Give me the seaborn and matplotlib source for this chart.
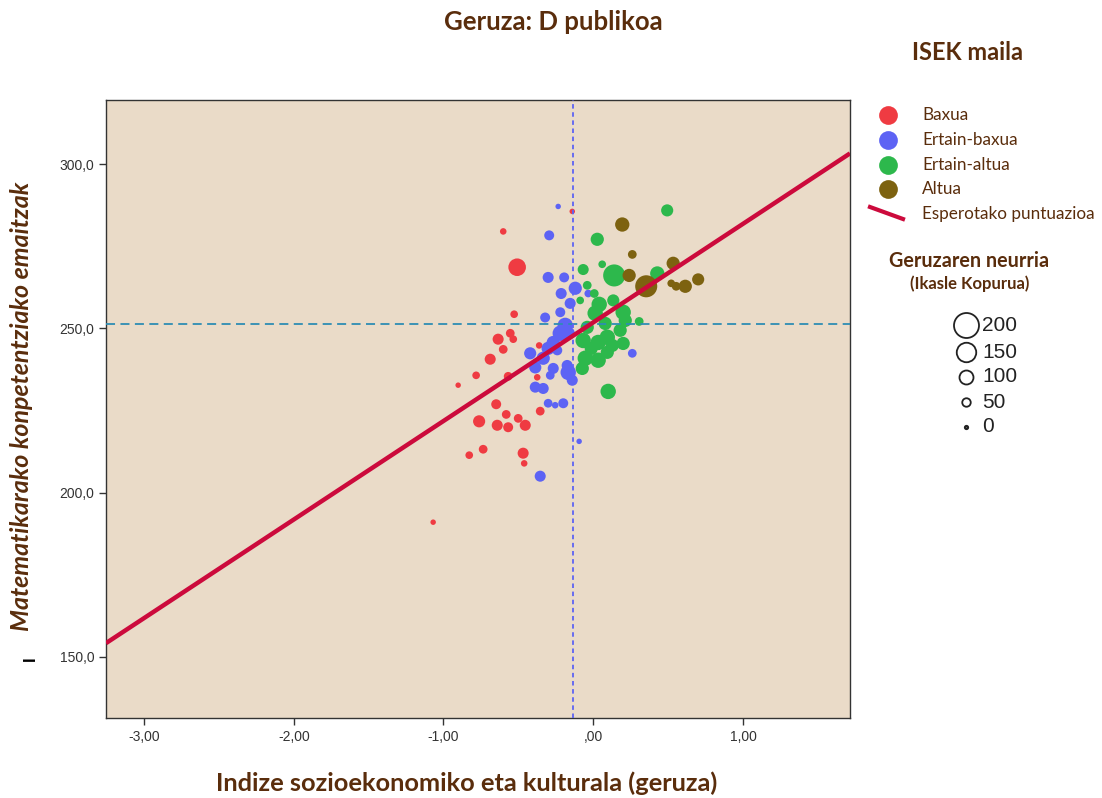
import numpy as np
import pandas as pd
import matplotlib
matplotlib.use("Agg")
import matplotlib.pyplot as plt
from matplotlib.lines import Line2D
from matplotlib.ticker import FixedLocator
import seaborn as sns

# ---------------- data ----------------
levels = ["Baxua", "Ertain-baxua", "Ertain-altua", "Altua"]

baxua_x = [-0.140, -0.601, -0.508, -0.528, -0.635, -0.554, -0.534, -0.601, -0.688, -0.782,
           -0.568, -0.361, -0.374, -0.902, -1.069, -0.648, -0.581, -0.762, -0.641, -0.568,
           -0.501, -0.454, -0.354, -0.828, -0.735, -0.468, -0.461]
baxua_y = [285.6, 279.5, 268.6, 254.3, 246.7, 248.5, 246.7, 243.6, 240.6, 235.7,
           235.4, 244.8, 235.1, 232.7, 191.0, 226.9, 223.8, 221.7, 220.5, 219.9,
           222.6, 220.5, 224.8, 211.4, 213.2, 212.0, 208.9]
baxua_n = [18, 27, 118, 36, 64, 45, 36, 45, 64, 36,
           45, 27, 27, 18, 18, 55, 45, 73, 64, 55,
           45, 64, 45, 36, 45, 64, 27]

ebax_x = [-0.234, -0.294, -0.301, -0.194, -0.120, -0.214, -0.154, -0.220, -0.321, -0.187,
          -0.220, -0.267, -0.167, -0.301, -0.421, -0.334, -0.387, -0.267, -0.174, -0.167,
          -0.287, -0.140, -0.387, -0.334, -0.301, -0.254, -0.200, -0.354, -0.094, 0.261,
          -0.033, -0.240]
ebax_y = [287.1, 278.3, 265.5, 265.5, 262.2, 260.6, 257.6, 254.9, 253.3, 250.9,
          248.5, 245.7, 248.5, 243.9, 242.4, 240.9, 238.1, 237.8, 238.7, 236.6,
          235.7, 234.2, 232.1, 231.7, 227.2, 226.6, 227.2, 205.0, 215.6, 242.4,
          260.6, 243.3]
ebax_n = [18, 55, 64, 55, 82, 64, 64, 55, 55, 100,
          100, 82, 82, 82, 73, 82, 73, 64, 64, 100,
          45, 64, 64, 64, 45, 27, 55, 64, 18, 45,
          36, 55]

ealt_x = [0.494, 0.027, 0.060, -0.067, 0.140, 0.428, -0.040, -0.087, 0.007, 0.040,
          0.134, 0.013, 0.200, 0.214, 0.180, 0.307, 0.080, -0.040, 0.094, -0.067,
          0.033, 0.200, -0.053, 0.033, 0.094, -0.073, 0.100, -0.013, 0.127]
ealt_y = [285.9, 277.1, 269.5, 267.9, 266.1, 266.7, 263.1, 258.5, 260.6, 257.3,
          258.5, 254.6, 254.9, 252.4, 249.4, 252.1, 251.5, 250.3, 247.3, 246.3,
          245.7, 245.4, 240.9, 240.3, 242.7, 237.8, 230.8, 243.9, 244.8]
ealt_n = [73, 82, 36, 64, 155, 91, 45, 36, 45, 100,
          73, 100, 100, 82, 82, 45, 82, 82, 100, 100,
          100, 82, 100, 100, 82, 82, 100, 82, 82]

altua_x = [0.194, 0.261, 0.240, 0.354, 0.534, 0.521, 0.554, 0.615, 0.701]
altua_y = [281.6, 272.5, 266.1, 262.8, 269.8, 263.7, 262.8, 262.8, 264.9]
altua_n = [91, 45, 82, 155, 82, 36, 45, 82, 73]

# expected score line (regression) and group means
line_intercept = 251.8
line_slope = 30.0
mean_x = -0.134
mean_y = 251.2

x_ticks = [-3, -2, -1, 0, 1]
x_tick_labels = ["-3,00", "-2,00", "-1,00", ",00", "1,00"]
y_ticks = [150, 200, 250, 300]
y_tick_labels = ["150,0", "200,0", "250,0", "300,0"]
x_limits = [-3.254, 1.715]
y_limits = [131.4, 319.5]

size_legend_values = [200, 150, 100, 50, 0]

# ---------------- styling ----------------
brown = "#5A2D0C"
palette = {"Baxua": "#EF3B42", "Ertain-baxua": "#5D63F4",
           "Ertain-altua": "#2DB84C", "Altua": "#7D6210"}
line_color = "#CC0A3C"
bg = "#EADBC8"

def diam_pt(n):
    # marker diameter in points (linear in group size)
    return 0.72 * (3.0 + 0.11 * n)

df = pd.DataFrame({
    "x": baxua_x + ebax_x + ealt_x + altua_x,
    "y": baxua_y + ebax_y + ealt_y + altua_y,
    "n": baxua_n + ebax_n + ealt_n + altua_n,
    "level": (["Baxua"] * len(baxua_x) + ["Ertain-baxua"] * len(ebax_x)
              + ["Ertain-altua"] * len(ealt_x) + ["Altua"] * len(altua_x)),
})
sizes = {v: (1.1 * diam_pt(v)) ** 2 for v in sorted(df["n"].unique())}

fig = plt.figure(figsize=(11.02, 7.98), dpi=100)
ax = fig.add_axes([106 / 1102, 1 - 718 / 798, (850 - 106) / 1102, (718 - 100) / 798])
ax.set_facecolor(bg)

sns.scatterplot(data=df, x="x", y="y", hue="level", hue_order=levels, palette=palette,
                size="n", sizes=sizes, linewidth=0, alpha=1.0, legend=False, ax=ax, zorder=3)

ax.axhline(mean_y, color="#2E8DB3", lw=1.3, ls=(0, (5, 3)), zorder=4)
ax.axvline(mean_x, color="#5D63F4", lw=1.3, ls=(0, (2.5, 2)), zorder=4)
lx = np.array(x_limits)
ax.plot(lx, line_intercept + line_slope * lx, color=line_color, lw=3.2, zorder=5,
        solid_capstyle="butt")

ax.set_xlim(*x_limits)
ax.set_ylim(*y_limits)
ax.xaxis.set_major_locator(FixedLocator(x_ticks))
ax.yaxis.set_major_locator(FixedLocator(y_ticks))
ax.set_xticklabels(x_tick_labels)
ax.set_yticklabels(y_tick_labels)
ax.tick_params(direction="out", length=5, width=1, color="#333333",
               labelsize=10, labelcolor="#333333")
for lab in ax.get_xticklabels() + ax.get_yticklabels():
    lab.set_family("Liberation Sans")
for s in ax.spines.values():
    s.set_color("#333333")
    s.set_linewidth(1)
ax.set_xlabel("")
ax.set_ylabel("")

tfont = dict(family="Lato", fontweight="bold", color=brown)
fig.text(553 / 1102, 1 - 22 / 798, "Geruza: D publikoa", ha="center", va="center",
         fontsize=18.5, **tfont)
fig.text(467 / 1102, 1 - 783 / 798, "Indize sozioekonomiko eta kulturala (geruza)",
         ha="center", va="center", fontsize=18.3, **tfont)
fig.text(22 / 1102, 1 - 406 / 798, "Matematikarako konpetentziako emaitzak",
         ha="center", va="center", rotation=90, fontsize=18, style="italic", **tfont)
fig.text(30 / 1102, 1 - 659 / 798, "I", ha="center", va="center", rotation=90,
         fontsize=12, fontweight="bold", color="black", family="Liberation Sans")

# ---- hue legend (manual) ----
fig.text(968 / 1102, 1 - 52 / 798, "ISEK maila", ha="center", va="center",
         fontsize=17, **tfont)
ys = [115, 140, 165, 189]
for lvl, yy in zip(levels, ys):
    fig.add_artist(Line2D([888 / 1102], [1 - yy / 798], marker="o", ls="none",
                          markersize=13.5, markerfacecolor=palette[lvl],
                          markeredgewidth=0, transform=fig.transFigure))
    fig.text(922 / 1102, 1 - yy / 798, lvl, ha="left", va="center", fontsize=12.3,
             family="Lato", color=brown)
fig.add_artist(Line2D([870 / 1102, 903 / 1102], [1 - 207 / 798, 1 - 219 / 798],
                      color=line_color, lw=3, transform=fig.transFigure))
fig.text(922 / 1102, 1 - 214 / 798, "Esperotako puntuazioa", ha="left", va="center",
         fontsize=12.3, family="Lato", color=brown)

# ---- size legend (manual) ----
fig.text(969 / 1102, 1 - 261 / 798, "Geruzaren neurria", ha="center", va="center",
         fontsize=14.2, **tfont)
fig.text(970 / 1102, 1 - 284 / 798, "(Ikasle Kopurua)", ha="center", va="center",
         fontsize=12, **tfont)
sys_ = [325, 352, 377, 402, 427]
for v, yy in zip(size_legend_values, sys_):
    d = 0.72 * (3.0 + 0.11 * v)
    fig.add_artist(Line2D([966 / 1102], [1 - yy / 798], marker="o", ls="none",
                          markersize=d, markerfacecolor="none", markeredgecolor="#222222",
                          markeredgewidth=1.3 if v > 0 else 1.6,
                          transform=fig.transFigure))
    fig.text(982 / 1102, 1 - yy / 798, str(v), ha="left", va="center", fontsize=15,
             family="Liberation Sans", color="#222222")

fig.savefig("out.png", dpi=100)
